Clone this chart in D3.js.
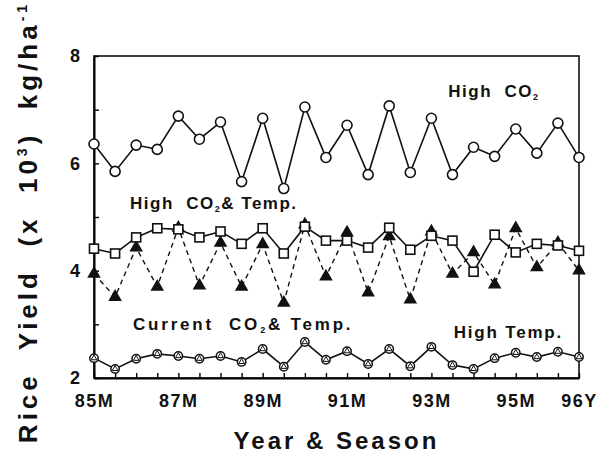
<!DOCTYPE html>
<html>
<head>
<meta charset="utf-8">
<script src="https://cdn.jsdelivr.net/npm/d3@7"></script>
<style>
  body { margin: 0; background: #fff; }
  text { font-family: "Liberation Sans", Arial, sans-serif; font-weight: bold; fill: #111; }
</style>
</head>
<body>
<div id="chart"></div>
<script>
// seasons, 85M .. 96Y (M = Maha, Y = Yala)
const seasons = ["85M","85Y","86M","86Y","87M","87Y","88M","88Y","89M","89Y","90M","90Y",
                 "91M","91Y","92M","92Y","93M","93Y","94M","94Y","95M","95Y","96M","96Y"];
const tickLabels = ["85M","87M","89M","91M","93M","95M","96Y"];
const yTicks = [2, 3, 4, 5, 6, 7, 8];

// yields, x 10^3 kg/ha
const highCO2 = [6.36,5.85,6.34,6.26,6.88,6.45,6.77,5.66,6.84,5.53,7.05,6.11,
                 6.71,5.79,7.07,5.83,6.84,5.79,6.30,6.13,6.64,6.19,6.75,6.11];
const highCO2Temp = [4.41,4.32,4.62,4.79,4.77,4.62,4.73,4.50,4.79,4.32,4.82,4.56,
                     4.56,4.43,4.80,4.39,4.65,4.56,3.98,4.67,4.34,4.50,4.47,4.37];
const highTempDashed = [3.94,3.51,4.43,3.70,4.80,3.72,4.52,3.70,4.49,3.40,4.86,3.89,
                        4.71,3.59,4.64,3.46,4.73,3.94,4.34,3.74,4.79,4.06,4.52,4.00];
const currentTemp = [2.37,2.17,2.36,2.45,2.41,2.36,2.41,2.30,2.54,2.21,2.67,2.34,
                     2.50,2.26,2.54,2.22,2.58,2.24,2.17,2.37,2.47,2.39,2.49,2.39];

const W = 601, H = 461;
const margin = { top: 56, right: 22, bottom: 83, left: 94 };

const svg = d3.select("#chart").append("svg")
  .attr("width", W).attr("height", H);

const x = d3.scaleLinear()
  .domain([0, seasons.length - 1])
  .range([margin.left, W - margin.right]);

const y = d3.scaleLinear()
  .domain([2, 8])
  .range([H - margin.bottom, margin.top]);

// frame
svg.append("rect")
  .attr("x", x(0)).attr("y", y(8))
  .attr("width", x(seasons.length - 1) - x(0))
  .attr("height", y(2) - y(8))
  .attr("fill", "none").attr("stroke", "#111").attr("stroke-width", 1.6);

// y axis
const yAxis = svg.append("g")
  .attr("transform", "translate(" + x(0) + ",0)")
  .call(d3.axisLeft(y).tickValues(yTicks).tickSizeInner(-5).tickSizeOuter(0).tickPadding(14)
    .tickFormat(d => d % 2 === 0 ? d : ""));
yAxis.select(".domain").attr("stroke-width", 2);
yAxis.selectAll("line").attr("stroke-width", 1.4);
yAxis.selectAll("text").style("font-size", "18px");

// x axis
const xAxis = svg.append("g")
  .attr("transform", "translate(0," + y(2) + ")")
  .call(d3.axisBottom(x).tickValues(d3.range(seasons.length)).tickSizeInner(-5).tickSizeOuter(0).tickPadding(16)
    .tickFormat(i => tickLabels.includes(seasons[i]) ? seasons[i] : ""));
xAxis.select(".domain").attr("stroke-width", 2);
xAxis.selectAll("line").attr("stroke-width", 1.4);
xAxis.selectAll("text").style("font-size", "18px").style("letter-spacing", "1.5px");

// axis titles
svg.append("text")
  .attr("x", (x(0) + x(23)) / 2)
  .attr("y", 449)
  .attr("text-anchor", "middle")
  .style("font-size", "24px").style("letter-spacing", "3px")
  .text("Year & Season");

const yt = svg.append("text")
  .attr("transform", "translate(37," + 222 + ") rotate(-90)")
  .attr("text-anchor", "middle")
  .style("font-size", "26px").style("letter-spacing", "4px")
  .style("white-space", "pre");
yt.append("tspan").text("Rice  Yield  (x  10");
yt.append("tspan").attr("dy", -10).style("font-size", "14px").text("3");
yt.append("tspan").attr("dy", 10).text(")  kg/ha");
yt.append("tspan").attr("dy", -10).style("font-size", "14px").text("-1");

// lines
const line = d3.line().x((d, i) => x(i)).y(d => y(d));

svg.append("path").datum(highTempDashed)
  .attr("d", line).attr("fill", "none").attr("stroke", "#111")
  .attr("stroke-width", 1.4).attr("stroke-dasharray", "5,4");

svg.append("path").datum(highCO2Temp)
  .attr("d", line).attr("fill", "none").attr("stroke", "#111").attr("stroke-width", 1.6);

svg.append("path").datum(highCO2)
  .attr("d", line).attr("fill", "none").attr("stroke", "#111").attr("stroke-width", 1.6);

svg.append("path").datum(currentTemp)
  .attr("d", line).attr("fill", "none").attr("stroke", "#111").attr("stroke-width", 1.6);

// markers
svg.append("g").selectAll("path")
  .data(highTempDashed).join("path")
  .attr("transform", (d, i) => "translate(" + x(i) + "," + y(d) + ")")
  .attr("d", d3.symbol(d3.symbolTriangle, 80))
  .attr("fill", "#111");

svg.append("g").selectAll("rect")
  .data(highCO2Temp).join("rect")
  .attr("x", (d, i) => x(i) - 4.5).attr("y", d => y(d) - 4.5)
  .attr("width", 9).attr("height", 9)
  .attr("fill", "#fff").attr("stroke", "#111").attr("stroke-width", 1.6);

svg.append("g").selectAll("circle")
  .data(highCO2).join("circle")
  .attr("cx", (d, i) => x(i)).attr("cy", d => y(d)).attr("r", 5)
  .attr("fill", "#fff").attr("stroke", "#111").attr("stroke-width", 1.6);

const cur = svg.append("g").selectAll("g")
  .data(currentTemp).join("g")
  .attr("transform", (d, i) => "translate(" + x(i) + "," + y(d) + ")");
cur.append("circle").attr("r", 4.2)
  .attr("fill", "#fff").attr("stroke", "#111").attr("stroke-width", 1.5);
cur.append("path").attr("d", d3.symbol(d3.symbolTriangle, 14))
  .attr("fill", "none").attr("stroke", "#111").attr("stroke-width", 1);

// annotations
const notes = [
  { i: 16.8, v: 7.23, a: "High  CO", sub: "2", b: "", ls: 1.5 },
  { i: 1.71, v: 5.14, a: "High  CO", sub: "2", b: "& Temp.", ls: 1.5 },
  { i: 1.85, v: 2.90, a: "Current  CO", sub: "2", b: "& Temp.", ls: 2.8 },
  { i: 17.06, v: 2.75, a: "High Temp.", sub: "", b: "", ls: 1.8 }
];
notes.forEach(n => {
  const t = svg.append("text")
    .attr("x", x(n.i)).attr("y", y(n.v))
    .style("font-size", "17px").style("letter-spacing", n.ls + "px")
    .style("white-space", "pre");
  t.append("tspan").text(n.a);
  if (n.sub) {
    t.append("tspan").attr("dy", 3).style("font-size", "9px").text(n.sub);
    t.append("tspan").attr("dy", -3).text(n.b);
  }
});
</script>
</body>
</html>
